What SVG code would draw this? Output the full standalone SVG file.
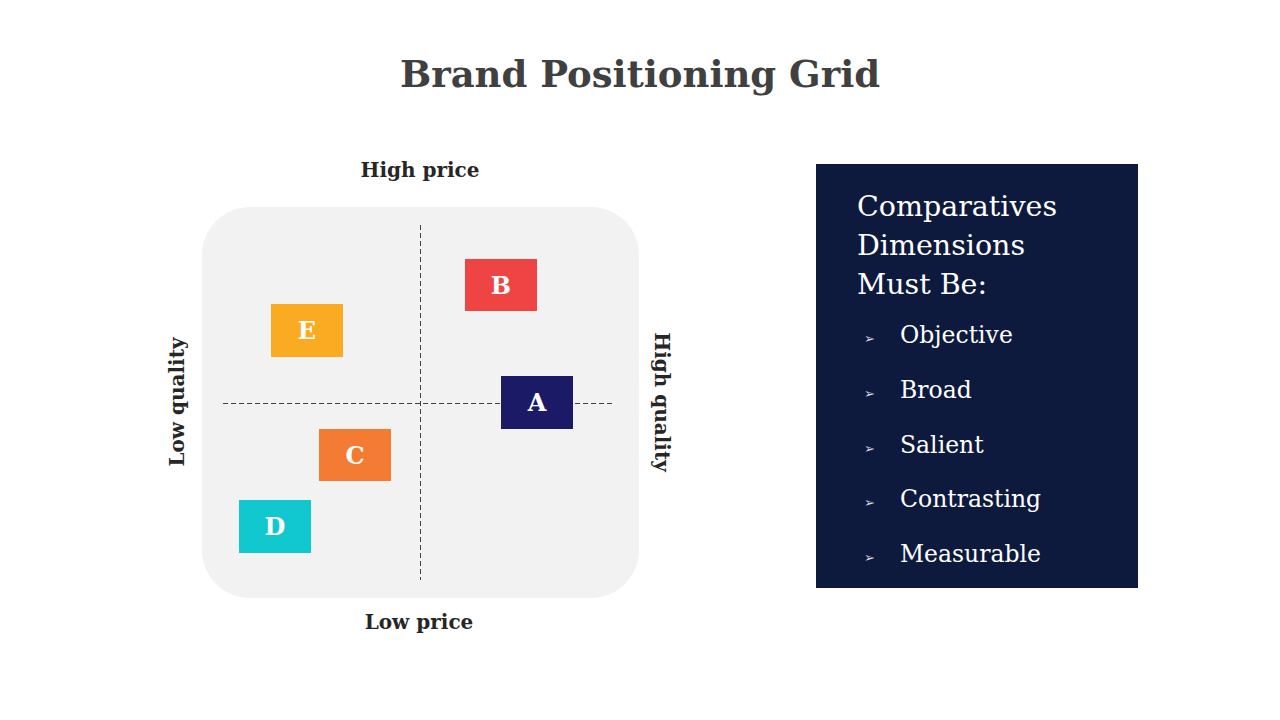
<svg xmlns="http://www.w3.org/2000/svg" width="1280" height="720" viewBox="0 0 1280 720">
<style>
.lbl{font-family:"DejaVu Serif","Liberation Serif",serif;font-weight:bold;font-size:20px;fill:#262626;text-anchor:middle}
.box{font-family:"DejaVu Serif","Liberation Serif",serif;font-weight:bold;font-size:24px;fill:#ffffff;text-anchor:middle}
.dash{stroke:#404040;stroke-width:1;stroke-dasharray:5 3;fill:none}
.head{font-family:"DejaVu Serif","Liberation Serif",serif;font-size:28.5px;fill:#ffffff}
.item{font-family:"DejaVu Serif","Liberation Serif",serif;font-size:23.5px;fill:#ffffff}
.bul{font-family:"DejaVu Sans",sans-serif;font-size:13px;fill:#d9d9d9}
</style>
<rect width="1280" height="720" fill="#ffffff"/>
<text x="640" y="87" font-family="DejaVu Serif, Liberation Serif, serif" font-weight="bold" font-size="37" fill="#404040" text-anchor="middle">Brand Positioning Grid</text>
<g id="grid">
<rect x="202" y="207" width="437" height="391" rx="48" ry="48" fill="#f2f2f2"/>
</g>
<g id="axes">
<line class="dash" x1="420.5" y1="225" x2="420.5" y2="580"/>
<line class="dash" x1="223" y1="403.5" x2="613" y2="403.5"/>
</g>
<text class="lbl" x="420" y="177">High price</text>
<text class="lbl" x="419" y="629">Low price</text>
<text class="lbl" transform="translate(184,402) rotate(-90)">Low quality</text>
<text class="lbl" transform="translate(655,402) rotate(90)">High quality</text>
<g id="nodeB"><rect x="465" y="259" width="72" height="52" fill="#ef4444"/><text class="box" x="501" y="294">B</text></g>
<g id="nodeE"><rect x="271" y="304" width="72" height="53" fill="#fbab22"/><text class="box" x="307" y="339">E</text></g>
<g id="nodeA"><rect x="501" y="376" width="72" height="53" fill="#1b1a66"/><text class="box" x="537" y="411">A</text></g>
<g id="nodeC"><rect x="319" y="429" width="72" height="52" fill="#f47b33"/><text class="box" x="355" y="464">C</text></g>
<g id="nodeD"><rect x="239" y="500" width="72" height="53" fill="#11c8cf"/><text class="box" x="275" y="535">D</text></g>
<g id="panel">
<rect x="816" y="164" width="322" height="424" fill="#0e1a3d"/>
<text class="head" x="857" y="216">Comparatives</text>
<text class="head" x="857" y="255">Dimensions</text>
<text class="head" x="857" y="294">Must Be:</text>
<text class="bul" x="864" y="343">➢</text><text class="item" x="900" y="343">Objective</text>
<text class="bul" x="864" y="398">➢</text><text class="item" x="900" y="398">Broad</text>
<text class="bul" x="864" y="453">➢</text><text class="item" x="900" y="453">Salient</text>
<text class="bul" x="864" y="507">➢</text><text class="item" x="900" y="507">Contrasting</text>
<text class="bul" x="864" y="562">➢</text><text class="item" x="900" y="562">Measurable</text>
</g>
</svg>
